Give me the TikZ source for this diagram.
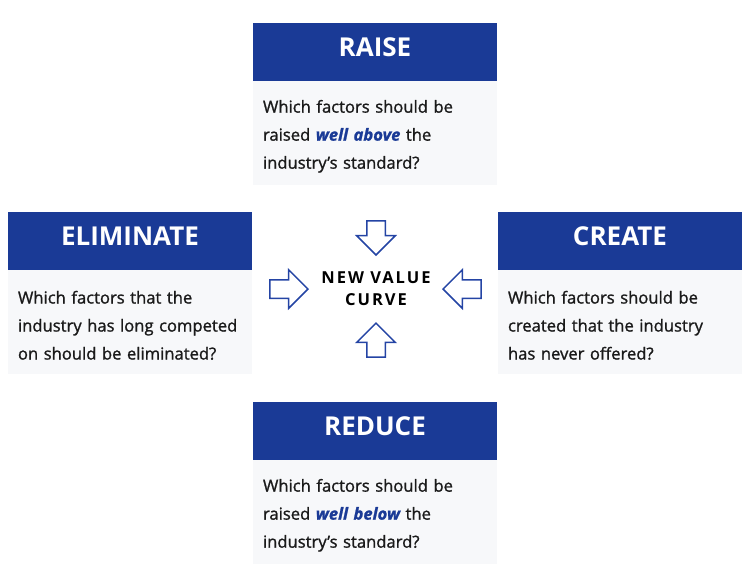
\documentclass[tikz,border=0pt]{standalone}
\usepackage{fontspec}
\setmainfont{Open Sans}
\usepackage{xcolor}
\definecolor{hdrblue}{HTML}{1A3A96}
\definecolor{boxbg}{HTML}{F7F8FA}
\definecolor{textmain}{HTML}{1A1A1A}
\definecolor{arrowblue}{HTML}{2444A4}
\usetikzlibrary{shapes.arrows, positioning}
\newcommand{\topgap}{\rule{0pt}{18.5pt}}

\begin{document}
\begin{tikzpicture}[
        x=1pt, y=-1pt,
        header/.style={
            rectangle,
            fill=hdrblue,
            text=white,
            minimum width=244pt,
            minimum height=58pt,
            inner sep=0pt,
            text depth=9pt,
            font=\fontsize{26}{30}\selectfont\bfseries
        },
        question/.style={
            rectangle,
            fill=boxbg,
            text=textmain,
            align=left,
            text width=224pt,
            inner xsep=10pt,
            minimum height=104pt,
            font=\fontsize{16.6}{28}\selectfont\addfontfeatures{FakeBold=1.2}
        },
        hollow/.style={
            single arrow,
            draw=arrowblue,
            line width=1.5pt,
            fill=none,
            inner sep=8.5pt,
            minimum height=34pt,
            single arrow head extend=10pt,
            anchor=tip
        }
    ]

    \useasboundingbox (0,0) rectangle (750,582);

    % Raise
    \node[header] (raise) at (375,52) {RAISE};
    \node[question, below=0pt of raise] (raiseq) {\topgap Which factors should be\\raised \textcolor{hdrblue}{\bfseries\itshape well above} the\\industry’s standard?};

    % Eliminate
    \node[header] (elim) at (130,241) {ELIMINATE};
    \node[question, below=0pt of elim] (elimq) {\topgap Which factors that the\\industry has long competed\\on should be eliminated?};

    % Create
    \node[header] (create) at (620,241) {CREATE};
    \node[question, below=0pt of create] (createq) {\topgap Which factors should be\\created that the industry\\has never offered?};

    % Reduce
    \node[header] (reduce) at (375,431) {REDUCE};
    \node[question, below=0pt of reduce] (reduceq) {\topgap Which factors should be\\raised \textcolor{hdrblue}{\bfseries\itshape well below} the\\industry’s standard?};

    % Centre
    \node[align=center, text=black, font=\fontsize{16.5}{22}\selectfont\bfseries\addfontfeatures{LetterSpace=12}] (curve) at (376,289) {NEW VALUE\\CURVE};

    % Arrows
    \node[hollow, shape border rotate=270] (arrown) at (376,256) {};
    \node[hollow, shape border rotate=90] (arrows) at (376,322) {};
    \node[hollow, minimum height=38pt] (arroww) at (309,289) {};
    \node[hollow, minimum height=38pt, shape border rotate=180] (arrowe) at (442,289) {};

\end{tikzpicture}
\end{document}
